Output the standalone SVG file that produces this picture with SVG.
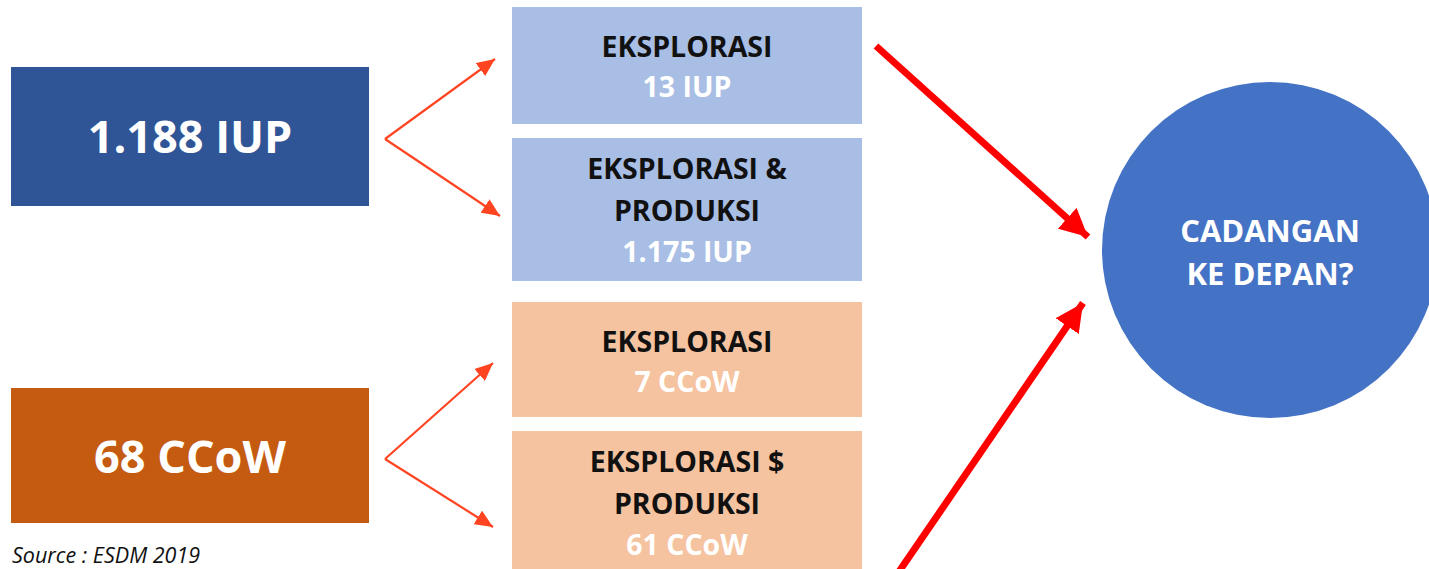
<svg xmlns="http://www.w3.org/2000/svg" width="1429" height="569" viewBox="0 0 1429 569">
<style>
.t{font-family:"Open Sans","Noto Sans","DejaVu Sans",sans-serif;font-weight:bold;text-anchor:middle}
.big{font-size:45px;fill:#fff}
.mid{font-size:28.5px}
.k{fill:#111}
.w{fill:#fff}
.thin{stroke:#FF4422;stroke-width:2.2;fill:none}
.thick{stroke:#FF0000;stroke-width:7;fill:none}
</style>
<defs>
<marker id="ah" markerUnits="userSpaceOnUse" markerWidth="20" markerHeight="16" viewBox="0 0 20 16" refX="18" refY="8" orient="auto">
<path d="M0,0 L18,8 L0,16 Z" fill="#FF4422"/>
</marker>
<marker id="ahb" markerUnits="userSpaceOnUse" markerWidth="30" markerHeight="28" viewBox="0 0 30 28" refX="28" refY="14" orient="auto">
<path d="M0,0 L28,14 L0,28 Z" fill="#FF0000"/>
</marker>
</defs>
<rect width="1429" height="569" fill="#fff"/>
<g id="iup">
<rect x="11" y="67" width="358" height="139" fill="#2F5597"/>
<text class="t big" x="190" y="153">1.188 IUP</text>
</g>
<g id="ccow">
<rect x="11" y="388" width="358" height="135" fill="#C55A11"/>
<text class="t big" x="190" y="473">68 CCoW</text>
</g>
<g id="eks-iup">
<rect x="512" y="7" width="350" height="117" fill="#A9BEE4"/>
<text class="t mid k" x="687" y="57">EKSPLORASI</text>
<text class="t mid w" x="687" y="97">13 IUP</text>
</g>
<g id="eksprod-iup">
<rect x="512" y="138" width="350" height="143" fill="#A9BEE4"/>
<text class="t mid k" x="687" y="179">EKSPLORASI &amp;</text>
<text class="t mid k" x="687" y="221">PRODUKSI</text>
<text class="t mid w" x="687" y="262">1.175 IUP</text>
</g>
<g id="eks-ccow">
<rect x="512" y="302" width="350" height="115" fill="#F5C3A0"/>
<text class="t mid k" x="687" y="352">EKSPLORASI</text>
<text class="t mid w" x="687" y="392">7 CCoW</text>
</g>
<g id="eksprod-ccow">
<rect x="512" y="431" width="350" height="140" fill="#F5C3A0"/>
<text class="t mid k" x="687" y="472">EKSPLORASI $</text>
<text class="t mid k" x="687" y="514">PRODUKSI</text>
<text class="t mid w" x="687" y="555">61 CCoW</text>
</g>
<g id="cadangan">
<circle cx="1270" cy="250" r="168" fill="#4472C4"/>
<text class="t w" style="font-size:31px" x="1270" y="242">CADANGAN</text>
<text class="t w" style="font-size:31px" x="1270" y="285">KE DEPAN?</text>
</g>
<g id="connectors">
<line class="thin" x1="385" y1="139" x2="495" y2="59" marker-end="url(#ah)"/>
<line class="thin" x1="385" y1="139" x2="500" y2="216" marker-end="url(#ah)"/>
<line class="thin" x1="385" y1="459" x2="493" y2="363" marker-end="url(#ah)"/>
<line class="thin" x1="385" y1="459" x2="493" y2="527" marker-end="url(#ah)"/>
<line class="thick" x1="876" y1="46" x2="1088" y2="237" marker-end="url(#ahb)"/>
<line class="thick" x1="896" y1="576" x2="1083" y2="303" marker-end="url(#ahb)"/>
</g>
<text x="12" y="563" style="font-family:'Open Sans','Noto Sans',sans-serif;font-style:italic;font-size:21.5px;fill:#111">Source : ESDM 2019</text>
</svg>
